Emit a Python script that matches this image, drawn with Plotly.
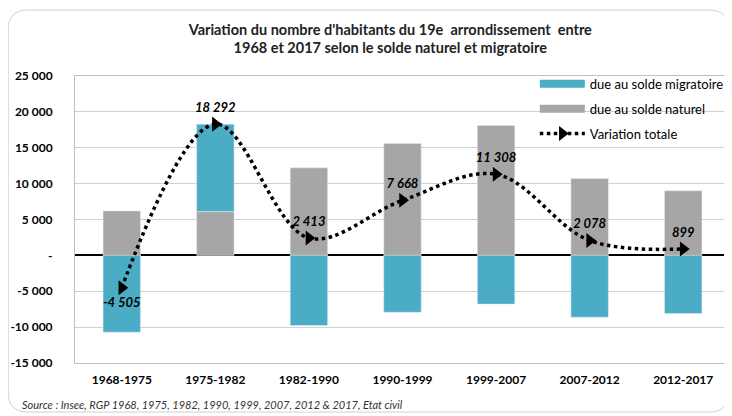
import plotly.graph_objects as go

periods = ['1968-1975', '1975-1982', '1982-1990', '1990-1999', '1999-2007', '2007-2012', '2012-2017']
solde_naturel = [6200, 6100, 12200, 15600, 18100, 10700, 9000]
solde_migratoire = [-10705, 12192, -9787, -7932, -6792, -8622, -8101]
variation_totale = [-4505, 18292, 2413, 7668, 11308, 2078, 899]
y_ticks = [25000, 20000, 15000, 10000, 5000, 0, -5000, -10000, -15000]
y_ticktext = ['25 000', '20 000', '15 000', '10 000', '5 000', '-', '-5 000', '-10 000', '-15 000']

labels = [f"{v:,}".replace(",", " ") for v in variation_totale]
FONT = 'Lato'
TEAL = '#4bacc6'
GREY = '#a6a6a6'

fig = go.Figure()
fig.add_trace(go.Bar(x=periods, y=solde_naturel, name='due au solde naturel',
                     marker_color=GREY, showlegend=False))
fig.add_trace(go.Bar(x=periods, y=solde_migratoire, name='due au solde migratoire',
                     marker_color=TEAL, showlegend=False))
fig.add_trace(go.Scatter(
    x=periods, y=variation_totale, name='Variation totale',
    mode='lines+markers+text', legendrank=3, legendgroup='c',
    line=dict(color='black', width=3.5, dash='dot', shape='spline', smoothing=1.0),
    marker=dict(symbol='triangle-right', size=13, color='black'),
    text=labels,
    textposition=['bottom center'] + ['top center'] * 6,
    textfont=dict(family=FONT, size=13, color='black', weight='bold', style='italic'),
))
# legend entries drawn as wide swatches like the original
fig.add_trace(go.Scatter(x=[None], y=[None], mode='lines', name='due au solde migratoire',
                         line=dict(color=TEAL, width=8), legendrank=1, legendgroup='a'))
fig.add_trace(go.Scatter(x=[None], y=[None], mode='lines', name='due au solde naturel',
                         line=dict(color=GREY, width=8), legendrank=2, legendgroup='b'))

fig.update_layout(
    width=724, height=408,
    barmode='relative', bargap=0.6,
    paper_bgcolor='white', plot_bgcolor='white',
    margin=dict(l=67, r=2, t=68, b=53),
    font=dict(family=FONT, size=12, color='black'),
    title=dict(
        text='Variation du nombre d\'habitants du 19e  arrondissement  entre<br>1968 et 2017 selon le solde naturel et migratoire',
        x=0.528, xanchor='center', y=0.935, yanchor='top',
        font=dict(family=FONT, size=14.5, color='#222', weight='bold'),
    ),
    legend=dict(
        x=0.702, y=1.025, xanchor='left', yanchor='top',
        bgcolor='rgba(0,0,0,0)', font=dict(size=13, color='black'),
        traceorder='grouped', tracegroupgap=5, itemwidth=45,
    ),
    showlegend=True,
)
fig.update_xaxes(
    showgrid=False, tickfont=dict(size=12, weight='bold'),
    showline=True, linecolor='#bfbfbf', mirror=True, ticks='', ticklabelstandoff=6,
)
fig.update_yaxes(
    range=[-15000, 25000], tickvals=y_ticks, ticktext=y_ticktext,
    showgrid=True, gridcolor='#d0d0d0', gridwidth=1,
    zeroline=True, zerolinecolor='black', zerolinewidth=2,
    showline=True, linecolor='#bfbfbf', mirror=True,
    tickfont=dict(size=12, weight='bold'), ticklabelstandoff=19,
)

# rounded frame around the whole chart
x0, x1, y0, y1 = -0.102, 0.998, -0.171, 1.23
rx, ry = 0.03, 0.07
fig.add_shape(
    type='path', xref='paper', yref='paper',
    path=(f'M {x0},{y1-ry} Q {x0},{y1} {x0+rx},{y1} L {x1-rx},{y1} Q {x1},{y1} {x1},{y1-ry} '
          f'L {x1},{y0+ry} Q {x1},{y0} {x1-rx},{y0} L {x0+rx},{y0} Q {x0},{y0} {x0},{y0+ry} Z'),
    line=dict(color='#d0d0d0', width=1), layer='below',
)
fig.add_annotation(
    text='Source : Insee, RGP 1968, 1975, 1982, 1990, 1999, 2007, 2012 & 2017, Etat civil',
    xref='paper', yref='paper', x=-0.084, y=-0.146, xanchor='left', yanchor='middle',
    showarrow=False, font=dict(family=FONT, size=11, style='italic', color='#333'),
)

fig.write_html("out.html")
